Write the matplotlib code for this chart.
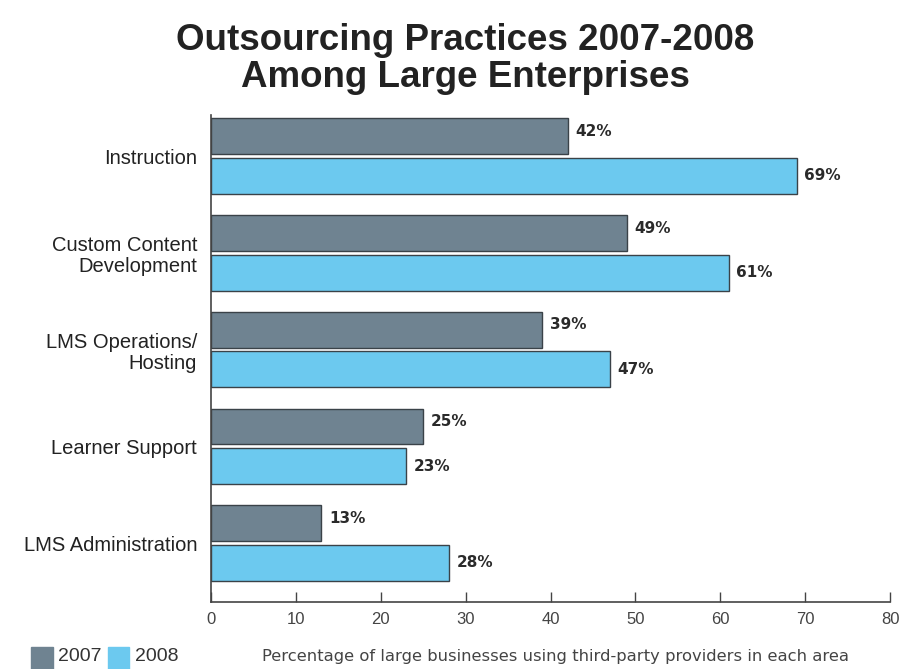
import matplotlib.pyplot as plt
import numpy as np
from matplotlib.patches import Rectangle

categories = ["Instruction", "Custom Content\nDevelopment", "LMS Operations/\nHosting",
              "Learner Support", "LMS Administration"]
vals_2007 = [42, 49, 39, 25, 13]
vals_2008 = [69, 61, 47, 23, 28]
series_names = ["2007", "2008"]
x_ticks = [0, 10, 20, 30, 40, 50, 60, 70, 80]

c2007 = "#6f8391"
c2008 = "#6cc9ef"
narrow = ["Liberation Sans Narrow", "Liberation Sans", "DejaVu Sans"]

fig = plt.figure(figsize=(9.22, 6.69), dpi=100)
ax = fig.add_axes([0.2289, 0.1001, 0.7364, 0.728])

y = np.arange(len(categories))
h = 0.37
ax.barh(y - h / 2 - 0.02, vals_2007, height=h, color=c2007, edgecolor="#3a4248", linewidth=1)
ax.barh(y + h / 2 + 0.02, vals_2008, height=h, color=c2008, edgecolor="#3a4248", linewidth=1)

for i in range(len(categories)):
    ax.text(vals_2007[i] + 0.9, y[i] - h / 2 - 0.07, f"{vals_2007[i]}%", va="center", ha="left",
            fontsize=11, fontweight="bold", color="#2a2a2a")
    ax.text(vals_2008[i] + 0.9, y[i] + h / 2 + 0.02, f"{vals_2008[i]}%", va="center", ha="left",
            fontsize=11, fontweight="bold", color="#2a2a2a")

ax.set_xlim(0, 80)
ax.set_ylim(4.61, -0.424)
ax.set_yticks(y)
ax.set_yticklabels(categories, family=narrow, fontsize=14.5, color="#222222", linespacing=1.15)
ax.tick_params(axis="y", length=0, pad=10)
ax.set_xticks(x_ticks)
ax.set_xticklabels([str(t) for t in x_ticks], family=narrow, fontsize=12, color="#444444")
ax.tick_params(axis="x", direction="in", length=7, width=1, color="#444444", pad=7)
for s in ["top", "right"]:
    ax.spines[s].set_visible(False)
for s in ["left", "bottom"]:
    ax.spines[s].set_color("#444444")
    ax.spines[s].set_linewidth(1.2)

fig.text(0.505, 0.912, "Outsourcing Practices 2007-2008\nAmong Large Enterprises", ha="center", va="center",
         family=["Liberation Sans", "DejaVu Sans"], fontweight="bold", fontsize=26.5, color="#222222",
         linespacing=1.05)

# legend
sq_x = [0.034, 0.117]
for k, (name, col) in enumerate(zip(series_names, [c2007, c2008])):
    x0 = sq_x[k]
    fig.patches.append(Rectangle((x0, 0.0), 0.023, 0.033, transform=fig.transFigure, color=col))
    fig.text(x0 + 0.029, 0.018, name, ha="left", va="center", family=narrow, fontsize=14, color="#333333")

fig.text(0.602, 0.018, "Percentage of large businesses using third-party providers in each area",
         ha="center", va="center", family=["DejaVu Sans"], fontsize=11.8, color="#444444")

fig.savefig("out.png", dpi=100)
